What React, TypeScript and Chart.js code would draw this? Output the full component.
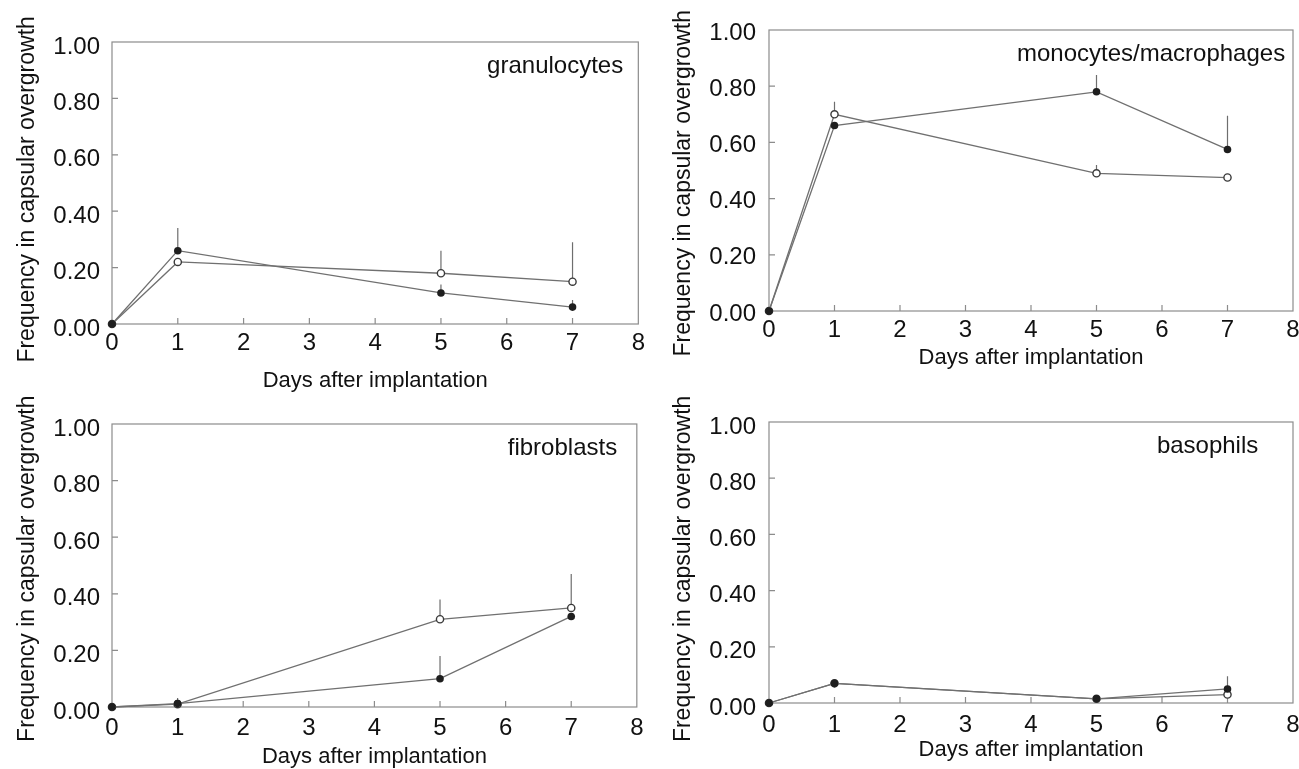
import { useEffect, useRef } from "react";
import { Chart, registerables } from "chart.js";
Chart.register(...registerables);

// ---------- data ----------
const days = [0, 1, 5, 7];
const xTickLabels = ["0", "1", "2", "3", "4", "5", "6", "7", "8"];
const yTickLabels = ["0.00", "0.20", "0.40", "0.60", "0.80", "1.00"];
const xTitle = "Days after implantation";
const yTitle = "Frequency in capsular overgrowth";

const granulocytesFilled = [0, 0.26, 0.11, 0.06];
const granulocytesFilledErr = [0, 0.08, 0.03, 0.025];
const granulocytesOpen = [0, 0.22, 0.18, 0.15];
const granulocytesOpenErr = [0, 0, 0.08, 0.14];

const monocytesFilled = [0, 0.66, 0.78, 0.575];
const monocytesFilledErr = [0, 0, 0.06, 0.12];
const monocytesOpen = [0, 0.7, 0.49, 0.475];
const monocytesOpenErr = [0, 0.045, 0.03, 0];

const fibroblastsFilled = [0, 0.012, 0.1, 0.32];
const fibroblastsFilledErr = [0, 0.02, 0.08, 0];
const fibroblastsOpen = [0, 0.01, 0.31, 0.35];
const fibroblastsOpenErr = [0, 0, 0.07, 0.12];

const basophilsFilled = [0, 0.07, 0.015, 0.05];
const basophilsFilledErr = [0, 0.015, 0, 0.045];
const basophilsOpen = [0, 0.07, 0.015, 0.03];
const basophilsOpenErr = [0, 0, 0, 0];

const panelNames = ["granulocytes", "monocytes/macrophages", "fibroblasts", "basophils"];

// ---------- layout ----------
type Layout = {
  left: number; top: number; w: number; h: number;
  padTop: number; padRight: number; yWidth: number; xHeight: number;
  xTickPad: number; xTitlePadBottom: number; yTickPad: number; yTitlePadTop: number;
  yLabelOffset: number; labelX: number; labelY: number; yTitleShift: number;
};

const FONT = '"Liberation Sans", Arial, Helvetica, sans-serif';

function Panel(props: {
  layout: Layout; name: string;
  filled: number[]; filledErr: number[]; open: number[]; openErr: number[];
}) {
  const ref = useRef<HTMLCanvasElement | null>(null);
  const { layout: L, name, filled, filledErr, open, openErr } = props;

  useEffect(() => {
    if (!ref.current) return;
    const errs = [filledErr, openErr];
    const plugin = {
      id: "frameAndErrors",
      beforeDatasetsDraw(chart: any) {
        const { ctx, chartArea: a, scales } = chart;
        const x = scales.x, y = scales.y;
        ctx.save();
        ctx.strokeStyle = "#8c8c8c";
        ctx.lineWidth = 1.2;
        ctx.strokeRect(a.left, a.top, a.right - a.left, a.bottom - a.top);
        ctx.beginPath();
        x.ticks.forEach((t: any) => {
          if (t.value > 0 && t.value < 8) {
            const px = x.getPixelForValue(t.value);
            ctx.moveTo(px, a.bottom);
            ctx.lineTo(px, a.bottom - 6);
          }
        });
        y.ticks.forEach((t: any) => {
          if (t.value > 0 && t.value < 1) {
            const py = y.getPixelForValue(t.value);
            ctx.moveTo(a.left, py);
            ctx.lineTo(a.left + 6, py);
          }
        });
        ctx.stroke();
        // error bars (upper only)
        ctx.strokeStyle = "#6e6e6e";
        ctx.lineWidth = 1.2;
        ctx.beginPath();
        errs.forEach((arr, di) => {
          const ds = chart.data.datasets[di].data;
          arr.forEach((e: number, i: number) => {
            if (e > 0) {
              const px = x.getPixelForValue(ds[i].x);
              ctx.moveTo(px, y.getPixelForValue(ds[i].y));
              ctx.lineTo(px, y.getPixelForValue(ds[i].y + e));
            }
          });
        });
        ctx.stroke();
        ctx.restore();
      },
      afterDraw(chart: any) {
        const { ctx, scales } = chart;
        ctx.save();
        ctx.font = `24px ${FONT}`;
        ctx.fillStyle = "#111";
        ctx.textAlign = "right";
        ctx.textBaseline = "alphabetic";
        ctx.fillText(name, scales.x.getPixelForValue(L.labelX), scales.y.getPixelForValue(L.labelY));
        ctx.restore();
      },
    };

    const chart = new Chart(ref.current, {
      type: "line",
      data: {
        datasets: [
          {
            data: days.map((d, i) => ({ x: d, y: filled[i] })),
            borderColor: "#707070",
            borderWidth: 1.3,
            pointRadius: 3.8,
            pointBorderWidth: 0,
            pointBackgroundColor: "#1e1e1e",
            pointBorderColor: "#1e1e1e",
            tension: 0,
            fill: false,
            clip: false,
          },
          {
            data: days.map((d, i) => ({ x: d, y: open[i] })),
            borderColor: "#707070",
            borderWidth: 1.3,
            pointRadius: 3.6,
            pointBorderWidth: 1.4,
            pointBackgroundColor: "#ffffff",
            pointBorderColor: "#3a3a3a",
            tension: 0,
            fill: false,
            clip: false,
          },
        ],
      },
      options: {
        responsive: false,
        animation: false,
        events: [],
        layout: { padding: { left: 0, top: L.padTop, right: L.padRight, bottom: 0 } },
        plugins: { legend: { display: false }, tooltip: { enabled: false }, title: { display: false } },
        scales: {
          x: {
            type: "linear",
            min: 0,
            max: 8,
            grid: { display: false, drawTicks: false },
            border: { display: false },
            afterFit: (s: any) => { s.height = L.xHeight; },
            ticks: {
              stepSize: 1,
              padding: L.xTickPad,
              color: "#111",
              font: { family: FONT, size: 24 },
              maxRotation: 0,
              autoSkip: false,
              callback: (v: any) => xTickLabels[Math.round(Number(v))] ?? "",
            },
            title: {
              display: true,
              text: xTitle,
              color: "#111",
              font: { family: FONT, size: 22 },
              padding: { top: 0, bottom: L.xTitlePadBottom },
            },
          },
          y: {
            type: "linear",
            min: 0,
            max: 1,
            grid: { display: false, drawTicks: false },
            border: { display: false },
            afterFit: (s: any) => { s.width = L.yWidth; },
            ticks: {
              stepSize: 0.2,
              padding: L.yTickPad,
              labelOffset: L.yLabelOffset,
              color: "#111",
              font: { family: FONT, size: 24 },
              autoSkip: false,
              callback: (v: any) => yTickLabels[Math.round(Number(v) * 5)] ?? "",
            },
            title: {
              display: true,
              text: yTitle + " ".repeat(L.yTitleShift),
              color: "#111",
              font: { family: FONT, size: 23 },
              padding: { top: L.yTitlePadTop, bottom: 0 },
            },
          },
        },
      },
      plugins: [plugin as any],
    } as any);
    return () => chart.destroy();
  }, []);

  return (
    <canvas
      ref={ref}
      width={L.w}
      height={L.h}
      style={{ position: "absolute", left: L.left, top: L.top, width: L.w, height: L.h }}
    />
  );
}

const layouts: Layout[] = [
  { left: 0, top: 0, w: 650, h: 395, padTop: 42, padRight: 10, yWidth: 112, xHeight: 71,
    xTickPad: 5, xTitlePadBottom: 0.8, yTickPad: 12, yTitlePadTop: 14, yLabelOffset: 5, labelX: 7.77, labelY: 0.89, yTitleShift: 2 },
  { left: 650, top: 0, w: 660, h: 380, padTop: 30, padRight: 17, yWidth: 119, xHeight: 69,
    xTickPad: 4.5, xTitlePadBottom: 8.5, yTickPad: 13, yTitlePadTop: 20, yLabelOffset: 3, labelX: 7.88, labelY: 0.89, yTitleShift: 4 },
  { left: 0, top: 380, w: 650, h: 389, padTop: 44, padRight: 10, yWidth: 112, xHeight: 62,
    xTickPad: 6.5, xTitlePadBottom: -1.5, yTickPad: 12, yTitlePadTop: 14, yLabelOffset: 5, labelX: 7.7, labelY: 0.89, yTitleShift: 1 },
  { left: 650, top: 380, w: 660, h: 389, padTop: 42, padRight: 17, yWidth: 119, xHeight: 66,
    xTickPad: 7.6, xTitlePadBottom: 5.5, yTickPad: 13, yTitlePadTop: 20, yLabelOffset: 5, labelX: 7.47, labelY: 0.89, yTitleShift: 2 },
];

export default function App() {
  return (
    <div style={{ position: "absolute", left: 0, top: 0, width: 1299, height: 769, overflow: "hidden", background: "#fff" }}>
      <Panel layout={layouts[0]} name={panelNames[0]} filled={granulocytesFilled} filledErr={granulocytesFilledErr} open={granulocytesOpen} openErr={granulocytesOpenErr} />
      <Panel layout={layouts[1]} name={panelNames[1]} filled={monocytesFilled} filledErr={monocytesFilledErr} open={monocytesOpen} openErr={monocytesOpenErr} />
      <Panel layout={layouts[2]} name={panelNames[2]} filled={fibroblastsFilled} filledErr={fibroblastsFilledErr} open={fibroblastsOpen} openErr={fibroblastsOpenErr} />
      <Panel layout={layouts[3]} name={panelNames[3]} filled={basophilsFilled} filledErr={basophilsFilledErr} open={basophilsOpen} openErr={basophilsOpenErr} />
    </div>
  );
}
